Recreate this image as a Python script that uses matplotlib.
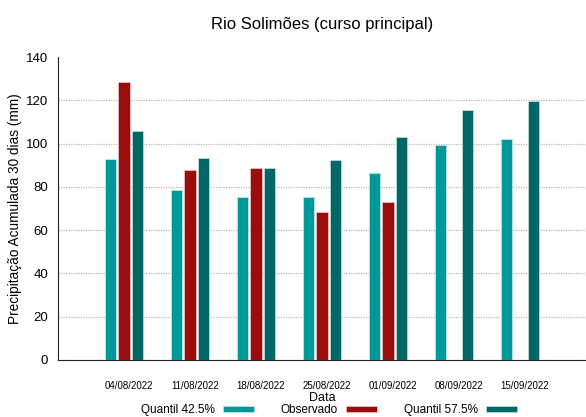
import numpy as np
import matplotlib.pyplot as plt
import matplotlib.transforms as mtransforms

# Dados
datas = ['04/08/2022', '11/08/2022', '18/08/2022', '25/08/2022',
         '01/09/2022', '08/09/2022', '15/09/2022']
quantil_425 = [93, 78.6, 75.5, 75.5, 86.5, 99.5, 102]
observado = [128.3, 88, 88.5, 68.5, 72.8, np.nan, np.nan]
quantil_575 = [106, 93.5, 88.5, 92.5, 103, 115.7, 119.8]

plt.rcParams['font.family'] = ['Liberation Sans', 'DejaVu Sans']

fig = plt.figure(figsize=(5.86, 4.17), dpi=100)
ax = fig.add_axes([0.099, 0.137, 0.901, 0.726])

x = np.arange(len(datas))
w = 0.17
d = 0.2
ax.bar(x - d, quantil_425, w, color='#009999', edgecolor='#bfe3e3', linewidth=0.6,
       label='Quantil 42.5%', zorder=3)
ax.bar(x, observado, w, color='#990d0d', edgecolor='#e6bfbf', linewidth=0.6,
       label='Observado', zorder=3)
ax.bar(x + d, quantil_575, w, color='#006666', edgecolor='#bfd9d9', linewidth=0.6,
       label='Quantil 57.5%', zorder=3)

ax.set_xlim(-1.0, 7.0)
ax.set_ylim(0, 140)
ax.set_yticks(np.arange(0, 141, 20))
ax.set_xticks(x)
ax.set_xticklabels(datas, fontsize=7)
ax.tick_params(axis='x', length=0, pad=15)
ax.tick_params(axis='y', length=0, labelsize=9.5, pad=7)
# rotulos de data levemente deslocados para a direita
desloc = mtransforms.ScaledTranslation(5 / 100, 0, fig.dpi_scale_trans)
for lbl in ax.get_xticklabels():
    lbl.set_transform(lbl.get_transform() + desloc)

ax.yaxis.grid(True, linestyle=(0, (1, 1)), color='#b8b8b8', linewidth=0.9, zorder=0)
ax.yaxis.get_gridlines()[-1].set_visible(False)
for s in ['top', 'right']:
    ax.spines[s].set_visible(False)
ax.spines['left'].set_color('#222222')
ax.spines['bottom'].set_color('#222222')

ax.set_title('Rio Solimões (curso principal)', fontsize=12, pad=20)
ax.set_ylabel('Precipitação Acumulada 30 dias (mm)', fontsize=9.8, labelpad=3)
ax.set_xlabel('Data', fontsize=9, labelpad=1)

ax.legend(loc='center', bbox_to_anchor=(0.513, -0.166), ncol=3, frameon=False,
          markerfirst=False, fontsize=8.5, handlelength=2.6, handleheight=0.45,
          columnspacing=2.3, handletextpad=0.68, borderaxespad=0, borderpad=0)

fig.savefig('out.png', dpi=100)
